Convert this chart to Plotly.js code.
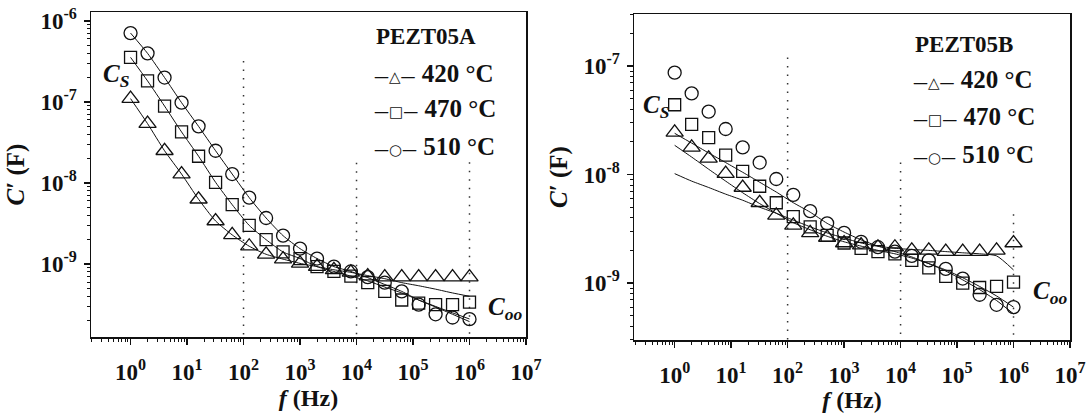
<!DOCTYPE html>
<html><head><meta charset="utf-8">
<script src="https://cdn.plot.ly/plotly-3.0.1.min.js"></script>
<style>html,body{margin:0;padding:0;background:#fff}#chart{width:1089px;height:413px}</style>
</head><body><div id="chart"></div>
<script>
// Frequencies (Hz) (0.3 decade steps)
const freq = [1, 2, 4, 8, 16, 32, 63, 126, 251, 501, 1000, 2000, 3980, 7940, 15800, 31600, 63100, 126000, 251000, 501000, 1000000];

// PEZT05A measured C' (F)
const capA420 = [1.10e-7, 5.4e-8, 2.5e-8, 1.29e-8, 6.3e-9, 3.4e-9, 2.29e-9, 1.66e-9, 1.32e-9, 1.15e-9, 1.02e-9, 9.3e-10, 8.5e-10, 7.9e-10, 7.1e-10, 6.9e-10, 6.9e-10, 6.9e-10, 6.9e-10, 6.9e-10, 6.9e-10];
const capA470 = [3.55e-7, 1.82e-7, 8.9e-8, 4.27e-8, 2.14e-8, 1.02e-8, 5.4e-9, 3.0e-9, 2.0e-9, 1.41e-9, 1.17e-9, 9.3e-10, 8.1e-10, 7.1e-10, 5.9e-10, 4.6e-10, 3.6e-10, 3.3e-10, 3.16e-10, 3.16e-10, 3.4e-10];
const capA510 = [7.08e-7, 3.98e-7, 2.0e-7, 9.8e-8, 5.0e-8, 2.5e-8, 1.29e-8, 6.6e-9, 3.7e-9, 2.24e-9, 1.55e-9, 1.17e-9, 9.3e-10, 8.1e-10, 6.9e-10, 5.9e-10, 4.6e-10, 3.16e-10, 2.4e-10, 2.19e-10, 2.09e-10];
// PEZT05A fitted curves
const fitA420 = [1.10e-7, 5.4e-8, 2.5e-8, 1.29e-8, 6.3e-9, 3.4e-9, 2.29e-9, 1.66e-9, 1.32e-9, 1.15e-9, 1.02e-9, 9.3e-10, 8.5e-10, 7.9e-10, 7.2e-10, 6.6e-10, 5.9e-10, 5.4e-10, 4.9e-10, 4.4e-10, 4.0e-10];
const fitA470 = [3.55e-7, 1.82e-7, 8.9e-8, 4.27e-8, 2.14e-8, 1.02e-8, 5.4e-9, 3.0e-9, 2.0e-9, 1.41e-9, 1.17e-9, 9.3e-10, 8.1e-10, 7.1e-10, 6.2e-10, 5.2e-10, 4.4e-10, 3.6e-10, 3.0e-10, 2.5e-10, 2.1e-10];
const fitA510 = [7.08e-7, 3.98e-7, 2.0e-7, 9.8e-8, 5.0e-8, 2.5e-8, 1.29e-8, 6.6e-9, 3.7e-9, 2.24e-9, 1.55e-9, 1.17e-9, 9.3e-10, 8.1e-10, 6.8e-10, 5.6e-10, 4.6e-10, 3.6e-10, 2.95e-10, 2.4e-10, 1.95e-10];

// PEZT05B measured C' (F)
const capB420 = [2.45e-8, 1.78e-8, 1.41e-8, 1.02e-8, 7.6e-9, 5.5e-9, 4.2e-9, 3.4e-9, 2.9e-9, 2.63e-9, 2.34e-9, 2.24e-9, 2.14e-9, 2.14e-9, 2.0e-9, 2.0e-9, 1.95e-9, 1.95e-9, 1.95e-9, 2.0e-9, 2.34e-9];
const capB470 = [4.4e-8, 2.9e-8, 2.19e-8, 1.51e-8, 1.07e-8, 7.8e-9, 5.5e-9, 4.1e-9, 3.3e-9, 2.75e-9, 2.34e-9, 2.09e-9, 1.95e-9, 1.86e-9, 1.62e-9, 1.38e-9, 1.15e-9, 1.0e-9, 9.1e-10, 9.3e-10, 1.02e-9];
const capB510 = [8.7e-8, 5.6e-8, 3.8e-8, 2.63e-8, 1.78e-8, 1.29e-8, 9.1e-9, 6.5e-9, 4.6e-9, 3.55e-9, 2.9e-9, 2.4e-9, 2.14e-9, 1.95e-9, 1.78e-9, 1.62e-9, 1.35e-9, 1.10e-9, 7.8e-10, 6.3e-10, 6.0e-10];
// PEZT05B fitted curves
const fitB420 = [1.02e-8, 8.7e-9, 7.6e-9, 6.6e-9, 5.8e-9, 5.0e-9, 4.4e-9, 3.8e-9, 3.3e-9, 2.9e-9, 2.6e-9, 2.34e-9, 2.19e-9, 2.09e-9, 2.04e-9, 2.0e-9, 1.95e-9, 1.9e-9, 1.86e-9, 1.78e-9, 1.32e-9];
const fitB470 = [1.86e-8, 1.45e-8, 1.12e-8, 8.7e-9, 6.8e-9, 5.4e-9, 4.4e-9, 3.6e-9, 3.1e-9, 2.7e-9, 2.4e-9, 2.19e-9, 2.0e-9, 1.86e-9, 1.7e-9, 1.51e-9, 1.32e-9, 1.12e-9, 9.3e-10, 7.6e-10, 6.0e-10];
const fitB510 = [2.4e-8, 1.95e-8, 1.58e-8, 1.29e-8, 1.05e-8, 8.5e-9, 6.9e-9, 5.5e-9, 4.5e-9, 3.55e-9, 2.95e-9, 2.5e-9, 2.19e-9, 1.95e-9, 1.74e-9, 1.51e-9, 1.29e-9, 1.07e-9, 8.7e-10, 6.9e-10, 5.2e-10];

// Dotted guide lines (frequency, top end, bottom end)
const guideFreq = [100, 10000, 1000000];
const guideTopA = [3.2e-7, 1.78e-8, 1.8e-8];
const guideTopB = [1.2e-7, 1.29e-8, 4.3e-9];
const guideBottomA = 1.26e-10;
const guideBottomB = 2.99e-10;

// Tick labels
const xTickVals = [1, 10, 100, 1e3, 1e4, 1e5, 1e6, 1e7];
const xTickText = ['10<sup>0</sup>', '10<sup>1</sup>', '10<sup>2</sup>', '10<sup>3</sup>', '10<sup>4</sup>', '10<sup>5</sup>', '10<sup>6</sup>', '10<sup>7</sup>'];
const yTickValsA = [1e-9, 1e-8, 1e-7, 1e-6];
const yTickTextA = ['10<sup>-9</sup>', '10<sup>-8</sup>', '10<sup>-7</sup>', '10<sup>-6</sup>'];
const yTickValsB = [1e-9, 1e-8, 1e-7];
const yTickTextB = ['10<sup>-9</sup>', '10<sup>-8</sup>', '10<sup>-7</sup>'];
const temps = ['420 °C', '470 °C', '510 °C'];
const sampleNames = ['PEZT05A', 'PEZT05B'];

const W = 1089, H = 413;
const FONT = 'Liberation Serif';
const INK = '#111';

function guides(top, bottom, xa, ya) {
  const x = [], y = [];
  guideFreq.forEach((f, i) => { x.push(f, f, null); y.push(top[i], bottom, null); });
  return {x, y, xaxis: xa, yaxis: ya, mode: 'lines', hoverinfo: 'skip', showlegend: false,
    line: {color: '#333', width: 1.5, dash: '1.5px,7px'}};
}
function fitLine(y, xa, ya) {
  return {x: freq, y, xaxis: xa, yaxis: ya, mode: 'lines', showlegend: false,
    line: {color: INK, width: 1, shape: 'spline', smoothing: 0.6}};
}
function pts(y, sym, size, xa, ya, name) {
  return {x: freq, y, xaxis: xa, yaxis: ya, mode: 'markers', name, showlegend: false, cliponaxis: false,
    marker: {symbol: sym, size, color: INK, line: {width: 1.3, color: INK}}};
}

const data = [
  guides(guideTopA, guideBottomA, 'x', 'y'),
  guides(guideTopB, guideBottomB, 'x2', 'y2'),
  fitLine(fitA420, 'x', 'y'), fitLine(fitA470, 'x', 'y'), fitLine(fitA510, 'x', 'y'),
  fitLine(fitB420, 'x2', 'y2'), fitLine(fitB470, 'x2', 'y2'), fitLine(fitB510, 'x2', 'y2'),
  pts(capA420, 'triangle-up-open', 15, 'x', 'y', temps[0]),
  pts(capA470, 'square-open', 12, 'x', 'y', temps[1]),
  pts(capA510, 'circle-open', 13, 'x', 'y', temps[2]),
  pts(capB420, 'triangle-up-open', 15, 'x2', 'y2', temps[0]),
  pts(capB470, 'square-open', 12, 'x2', 'y2', temps[1]),
  pts(capB510, 'circle-open', 13, 'x2', 'y2', temps[2])
];

function xAxis(domain, anchor) {
  return {type: 'log', domain, anchor, range: [-0.7, 7.0],
    tickmode: 'array', tickvals: xTickVals, ticktext: xTickText,
    ticks: 'outside', ticklen: 6, tickwidth: 1.5, tickcolor: INK,
    minor: {tickmode: 'linear', dtick: 'D1', ticks: 'outside', ticklen: 3, tickwidth: 1, tickcolor: INK},
    showline: true, linewidth: 1.5, linecolor: INK, mirror: true, showgrid: false, zeroline: false,
    ticklabelstandoff: 8,
    tickfont: {family: FONT, size: 23, color: INK, weight: 'bold'},
    title: {text: '<b><i>f</i> (Hz)</b>', font: {family: FONT, size: 24, color: INK}, standoff: 4}};
}
function yAxis(domain, anchor, range, vals, text) {
  return {type: 'log', domain, anchor, range,
    tickmode: 'array', tickvals: vals, ticktext: text,
    ticks: 'outside', ticklen: 6, tickwidth: 1.5, tickcolor: INK,
    minor: {tickmode: 'linear', dtick: 'D1', ticks: 'outside', ticklen: 3, tickwidth: 1, tickcolor: INK},
    showline: true, linewidth: 1.5, linecolor: INK, mirror: true, showgrid: false, zeroline: false,
    ticklabelstandoff: 2,
    tickfont: {family: FONT, size: 23, color: INK, weight: 'bold'},
    title: {text: '<b><i>C</i>′ (F)</b>', font: {family: FONT, size: 25, color: INK}, standoff: 8}};
}

function ann(px, py, text, size, anchor) {
  return {xref: 'paper', yref: 'paper', x: px / W, y: 1 - py / H, text, showarrow: false,
    xanchor: anchor || 'left', yanchor: 'middle', font: {family: FONT, size, color: INK}};
}
const markGlyph = ['—△—', '—□—', '—○—'];
function legendAnns(x0, yTitle, rows, name) {
  const a = [ann(x0 + 2, yTitle, '<b>' + name + '</b>', 23)];
  rows.forEach((ry, i) => {
    a.push(ann(x0, ry, '<span style="font-family:DejaVu Sans;font-size:15px">' + markGlyph[i] + '</span> <b>' + temps[i] + '</b>', 25));
  });
  return a;
}

const annotations = [
  ...legendAnns(372, 36, [73, 109, 147], sampleNames[0]),
  ...legendAnns(911, 44, [79, 116, 154], sampleNames[1]),
  ann(101, 75, '<b><i>C</i></b><sub><b><i>S</i></b></sub>', 25),
  ann(641, 106, '<b><i>C</i></b><sub><b><i>S</i></b></sub>', 25),
  ann(486, 308, '<b><i>C</i></b><sub><b><i>oo</i></b></sub>', 25),
  ann(1031, 292, '<b><i>C</i></b><sub><b><i>oo</i></b></sub>', 25)
];

const layout = {
  width: W, height: H, margin: {l: 0, r: 0, t: 0, b: 0},
  paper_bgcolor: '#fff', plot_bgcolor: '#fff', showlegend: false,
  xaxis: xAxis([91 / W, 526 / W], 'y'),
  yaxis: yAxis([1 - 337 / H, 1 - 12 / H], 'x', [-9.9, -5.89], yTickValsA, yTickTextA),
  xaxis2: xAxis([634 / W, 1070 / W], 'y2'),
  yaxis2: yAxis([1 - 340 / H, 1 - 14 / H], 'x2', [-9.525, -6.52], yTickValsB, yTickTextB),
  annotations
};
layout.xaxis2.range = [-0.72, 7.0];

Plotly.newPlot('chart', data, layout, {displayModeBar: false, staticPlot: true});
</script></body></html>
